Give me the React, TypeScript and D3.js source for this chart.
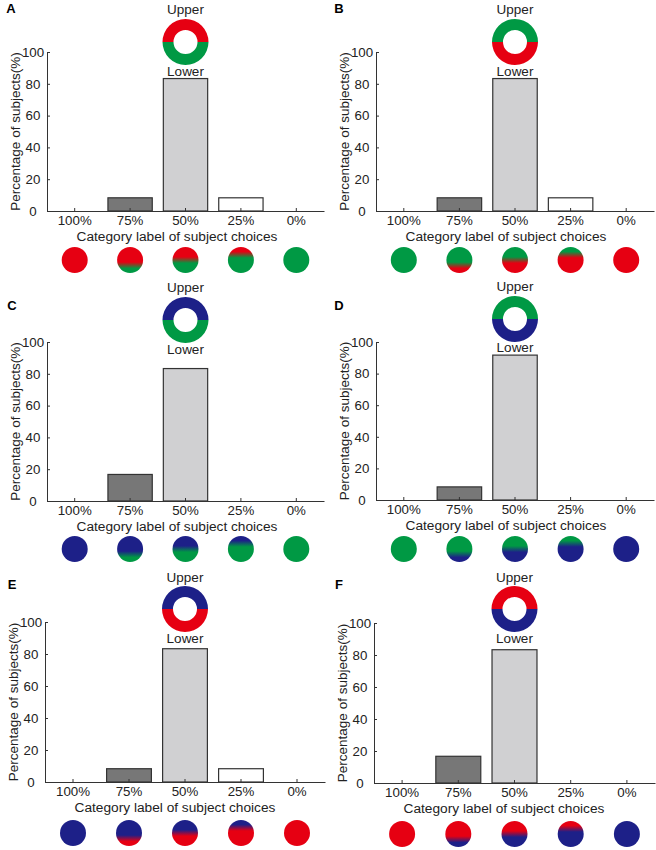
import React, { useEffect, useRef } from 'react';
import * as d3 from 'd3';

// category labels = share of the upper colour in the test disc
const categories = ['100%', '75%', '50%', '25%', '0%'];
const upperShare = [100, 75, 50, 25, 0];

const panelLetters = ['A', 'B', 'C', 'D', 'E', 'F'];

const RED = '#e60012';
const GREEN = '#009944';
const BLUE = '#1d2088';

const upperColors = [RED, GREEN, BLUE, GREEN, BLUE, RED];
const lowerColors = [GREEN, RED, GREEN, BLUE, RED, BLUE];

// percentage of subjects per category, one array per panel
const valuesA = [0, 8.3, 83.3, 8.3, 0];
const valuesB = [0, 8.3, 83.3, 8.3, 0];
const valuesC = [0, 16.7, 83.3, 0, 0];
const valuesD = [0, 8.3, 91.7, 0, 0];
const valuesE = [0, 8.3, 83.3, 8.3, 0];
const valuesF = [0, 16.7, 83.3, 0, 0];
const panelValues = [valuesA, valuesB, valuesC, valuesD, valuesE, valuesF];

const yTicks = [0, 20, 40, 60, 80, 100];
const barFills = ['#ffffff', '#777777', '#d0d0d2', '#ffffff', '#ffffff'];

// page placement of each panel
const layouts = [
  { left: 47, right: 324, top: 52, bottom: 211, ringY: 42, upperY: 9, lowerY: 71, lx: 11, ly: 8, circY: 260 },
  { left: 376, right: 654, top: 52, bottom: 211, ringY: 42, upperY: 9, lowerY: 71, lx: 339, ly: 8, circY: 260 },
  { left: 47, right: 324, top: 342, bottom: 501, ringY: 320, upperY: 287, lowerY: 349, lx: 12, ly: 305, circY: 549 },
  { left: 376, right: 654, top: 342, bottom: 500, ringY: 319, upperY: 286, lowerY: 347, lx: 339, ly: 305, circY: 549 },
  { left: 45, right: 325, top: 622, bottom: 782, ringY: 609, upperY: 577, lowerY: 638, lx: 12, ly: 584, circY: 833 },
  { left: 374, right: 655, top: 623, bottom: 783, ringY: 609, upperY: 577, lowerY: 638, lx: 339, ly: 584, circY: 834 },
];

const FONT = 'Liberation Sans, Arial, sans-serif';

// depth (0..1 of diameter) at which a horizontal cut leaves `share` of the disc area above
function cutDepth(share: number) {
  if (share <= 0) return 0;
  if (share >= 1) return 1;
  let lo = 0, hi = 2;
  for (let i = 0; i < 40; i++) {
    const h = (lo + hi) / 2;
    const a = (Math.acos(1 - h) - (1 - h) * Math.sqrt(2 * h - h * h)) / Math.PI;
    if (a < share) lo = h; else hi = h;
  }
  return lo / 2;
}

const Panel = ({ idx }: { idx: number }) => {
  const xAxisRef = useRef<SVGGElement | null>(null);
  const yAxisRef = useRef<SVGGElement | null>(null);
  const L = layouts[idx];
  const values = panelValues[idx];

  const x = d3.scaleBand().domain(categories).range([L.left, L.right]).paddingInner(0.2).paddingOuter(0.1);
  const y = d3.scaleLinear().domain([0, 100]).range([L.bottom, L.top]);

  useEffect(() => {
    const xa = d3.select(xAxisRef.current!);
    xa.selectAll('*').remove();
    xa.call(d3.axisBottom(x).tickSize(-3).tickSizeOuter(0));
    xa.selectAll('.tick text').attr('y', 14).attr('dy', null);
    const ya = d3.select(yAxisRef.current!);
    ya.selectAll('*').remove();
    ya.call(d3.axisLeft(y).tickValues(yTicks).tickSize(-3).tickSizeOuter(0));
    // tick labels of the y axis sit centred, not right-aligned
    ya.selectAll('.tick text').attr('text-anchor', 'middle').attr('x', -14);
    [xa, ya].forEach((g) => {
      g.attr('font-family', FONT).attr('font-size', 13.3);
      g.selectAll('path,line').attr('stroke', '#333').attr('stroke-width', 1);
      g.selectAll('text').attr('fill', '#222');
    });
  }, [idx]);

  const cx = (x('50%') ?? 0) + x.bandwidth() / 2;
  const arc = d3.arc<any>().innerRadius(12).outerRadius(23);
  const upperArc = arc({ startAngle: -Math.PI / 2, endAngle: Math.PI / 2 });
  const lowerArc = arc({ startAngle: Math.PI / 2, endAngle: (3 * Math.PI) / 2 });
  const up = upperColors[idx];
  const lo = lowerColors[idx];
  const blend = d3.interpolateRgb(up, lo)(0.5);

  return (
    <g>
      <defs>
        {upperShare.map((s, i) => {
          const d = cutDepth(s / 100);
          const w = s === 0 || s === 100 ? 0 : 0.12;
          return (
            <linearGradient key={i} id={`g${idx}-${i}`} x1="0" y1="0" x2="0" y2="1">
              <stop offset={Math.max(0, d - w)} stopColor={up} />
              {w > 0 && <stop offset={d} stopColor={blend} />}
              <stop offset={Math.min(1, d + w)} stopColor={lo} />
            </linearGradient>
          );
        })}
      </defs>
      <text x={L.lx} y={L.ly} dy="0.35em" fontFamily={FONT} fontWeight="bold" fontSize={13} textAnchor="middle">
        {panelLetters[idx]}
      </text>
      {values.map((v, i) =>
        v > 0 ? (
          <rect
            key={i}
            x={x(categories[i])}
            y={y(v)}
            width={x.bandwidth()}
            height={y(0) - y(v)}
            fill={barFills[i]}
            stroke="#333"
            strokeWidth={1.2}
          />
        ) : null
      )}
      <g ref={xAxisRef} transform={`translate(0,${L.bottom})`} />
      <g ref={yAxisRef} transform={`translate(${L.left},0)`} />
      <text
        transform={`translate(${L.left - 32},${(L.top + L.bottom) / 2}) rotate(-90)`}
        textAnchor="middle"
        dy="0.35em"
        fontFamily={FONT}
        fontSize={13.5}
        fill="#222"
      >
        Percentage of subjects(%)
      </text>
      <text x={L.left + 130} y={L.bottom + 29.5} textAnchor="middle" fontFamily={FONT} fontSize={13.7} fill="#222">
        Category label of subject choices
      </text>
      <g transform={`translate(${cx},${L.ringY})`}>
        <path d={upperArc ?? ''} fill={up} />
        <path d={lowerArc ?? ''} fill={lo} />
      </g>
      <text x={cx} y={L.upperY} dy="0.35em" textAnchor="middle" fontFamily={FONT} fontSize={13.5} fill="#222">
        Upper
      </text>
      <text x={cx} y={L.lowerY} dy="0.35em" textAnchor="middle" fontFamily={FONT} fontSize={13.5} fill="#222">
        Lower
      </text>
      {categories.map((c, i) => (
        <circle
          key={c}
          cx={(x(c) ?? 0) + x.bandwidth() / 2}
          cy={L.circY}
          r={13}
          fill={`url(#g${idx}-${i})`}
        />
      ))}
    </g>
  );
};

export default function App() {
  return (
    <div style={{ position: 'absolute', left: 0, top: 0 }}>
      <svg width={656} height={850} style={{ display: 'block', background: '#fff' }}>
        {panelLetters.map((_, i) => (
          <Panel key={i} idx={i} />
        ))}
      </svg>
    </div>
  );
}
